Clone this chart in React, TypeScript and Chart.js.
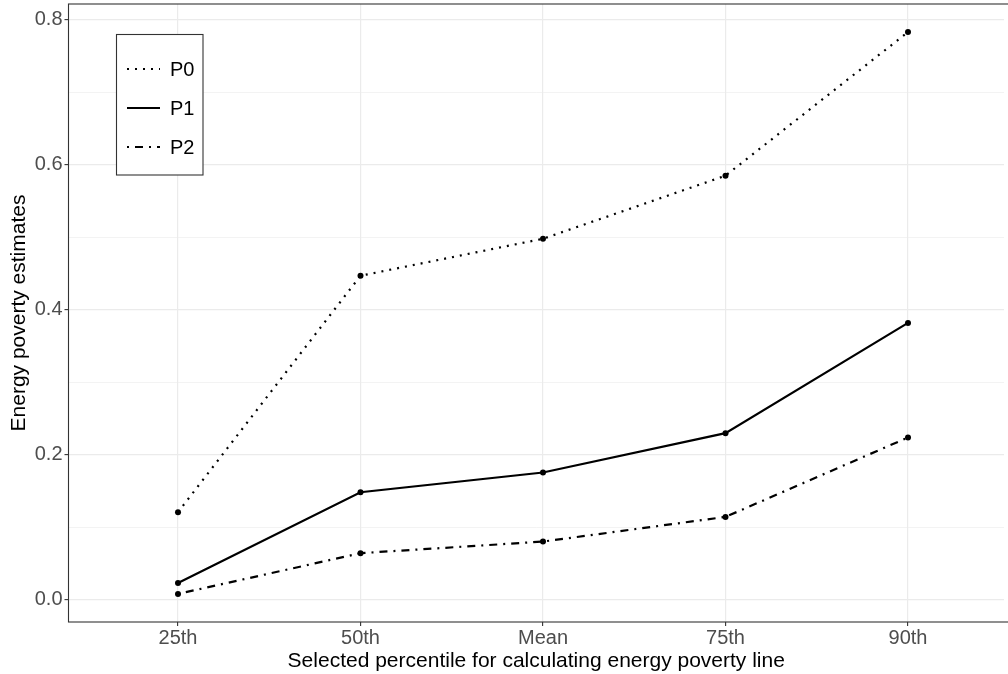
import React, { useEffect, useRef } from "react";
import { Chart, registerables } from "chart.js";

Chart.register(...registerables);

const categories = ["25th", "50th", "Mean", "75th", "90th"];
const seriesNames = ["P0", "P1", "P2"];
const p0Values = [0.121, 0.447, 0.498, 0.585, 0.783];
const p1Values = [0.0235, 0.1485, 0.1757, 0.230, 0.382];
const p2Values = [0.0083, 0.0645, 0.0805, 0.1145, 0.224];
const yTickValues = [0.0, 0.2, 0.4, 0.6, 0.8];
const xTitle = "Selected percentile for calculating energy poverty line";
const yTitle = "Energy poverty estimates";

const dashes: number[][] = [[2, 6], [], [2, 6, 8, 6]];
const FONT = "'Liberation Sans', Arial, Helvetica, sans-serif";
const X_UNIT_PX = 182.5;

const toPoints = (vals: number[]) => vals.map((v, i) => ({ x: i, y: v }));

const zeroPad = (s: any) => {
  s.paddingLeft = 0;
  s.paddingRight = 0;
  s.paddingTop = 0;
  s.paddingBottom = 0;
};

const panelPlugin = {
  id: "panelAndLegend",
  afterLayout(chart: any) {
    const x = chart.scales.x;
    x.max = -0.6 + (x.right - x.left) / X_UNIT_PX;
    x.configure();
  },
  afterDraw(chart: any) {
    const { ctx, chartArea } = chart;
    ctx.save();
    ctx.strokeStyle = "#333333";
    ctx.lineWidth = 1.1;
    ctx.setLineDash([]);
    ctx.strokeRect(chartArea.left, chartArea.top, 1030 - chartArea.left, chartArea.bottom - chartArea.top);
    const lx = 116.5, ly = 34.5, lw = 86.5, lh = 140.5;
    ctx.fillStyle = "#ffffff";
    ctx.fillRect(lx, ly, lw, lh);
    ctx.strokeStyle = "#333333";
    ctx.lineWidth = 1.1;
    ctx.strokeRect(lx, ly, lw, lh);
    const ys = [69, 108, 147];
    seriesNames.forEach((name, i) => {
      ctx.beginPath();
      ctx.setLineDash(dashes[i]);
      ctx.strokeStyle = "#000000";
      ctx.lineWidth = 2.2;
      ctx.moveTo(127, ys[i]);
      ctx.lineTo(160, ys[i]);
      ctx.stroke();
      ctx.setLineDash([]);
      ctx.fillStyle = "#000000";
      ctx.font = `20px ${FONT}`;
      ctx.textBaseline = "middle";
      ctx.textAlign = "left";
      ctx.fillText(name, 170, ys[i] + 1);
    });
    ctx.restore();
  },
};

export default function App() {
  const ref = useRef<HTMLCanvasElement | null>(null);
  useEffect(() => {
    document.body.style.margin = "0";
    const canvas = ref.current!;
    const isMajor = (v: number) => Math.abs(Math.round(v * 10)) % 2 === 0;
    const chart = new Chart(canvas, {
      type: "line",
      data: {
        datasets: [p0Values, p1Values, p2Values].map((vals, i) => ({
          label: seriesNames[i],
          data: toPoints(vals),
          borderColor: "#000000",
          backgroundColor: "#000000",
          borderWidth: 2.2,
          borderDash: dashes[i],
          pointRadius: 3,
          pointBorderWidth: 0,
          pointBackgroundColor: "#000000",
          tension: 0,
          fill: false,
        })),
      },
      options: {
        animation: false,
        responsive: false,
        maintainAspectRatio: false,
        layout: { padding: { top: 4, right: -4, left: 0, bottom: 0 } },
        plugins: {
          legend: { display: false },
          tooltip: { enabled: false },
          title: { display: false },
        },
        scales: {
          x: {
            type: "linear",
            min: -0.6,
            max: -0.6 + (1008 - 68.5) / X_UNIT_PX,
            afterFit: (s: any) => {
              s.height = 52;
              zeroPad(s);
            },
            afterBuildTicks: (s: any) => {
              s.ticks = categories.map((_, i) => ({ value: i }));
            },
            ticks: {
              stepSize: 1,
              includeBounds: false,
              autoSkip: false,
              maxRotation: 0,
              padding: 0,
              color: "#4D4D4D",
              font: { family: FONT, size: 20 },
              callback: (v: any) => categories[Math.round(Number(v))] ?? "",
            },
            grid: {
              color: "#EBEBEB",
              lineWidth: 1.2,
              drawTicks: true,
              tickLength: 4,
              tickColor: "#333333",
              tickWidth: 1.1,
            },
            border: { display: false },
            title: {
              display: true,
              text: xTitle,
              color: "#000000",
              font: { family: FONT, size: 21 },
              padding: { top: 0, bottom: 0.5 },
            },
          },
          y: {
            type: "linear",
            min: -0.0304,
            max: 0.8217,
            afterFit: (s: any) => {
              s.width = 68.5;
              zeroPad(s);
            },
            afterBuildTicks: (s: any) => {
              const t: any[] = [];
              for (let k = 0; k <= 8; k++) t.push({ value: k / 10 });
              s.ticks = t;
            },
            ticks: {
              stepSize: 0.1,
              includeBounds: false,
              autoSkip: false,
              padding: 2,
              color: "#4D4D4D",
              font: { family: FONT, size: 20 },
              callback: (v: any) => {
                const n = Number(v);
                if (!isMajor(n)) return "";
                const m = yTickValues.find((t) => Math.abs(t - n) < 1e-6);
                return m === undefined ? "" : m.toFixed(1);
              },
            },
            grid: {
              color: "#EBEBEB",
              lineWidth: (c: any) => (c.tick && isMajor(c.tick.value) ? 1.2 : 0.6),
              drawTicks: true,
              tickLength: 4,
              tickColor: (c: any) => (c.tick && isMajor(c.tick.value) ? "#333333" : "rgba(0,0,0,0)"),
              tickWidth: 1.1,
            },
            border: { display: false },
            title: {
              display: true,
              text: yTitle,
              color: "#000000",
              font: { family: FONT, size: 21 },
              padding: { top: 7.1, bottom: 0 },
            },
          },
        },
      } as any,
      plugins: [panelPlugin],
    });
    return () => chart.destroy();
  }, []);
  return (
    <div style={{ width: 1008, height: 674, background: "#ffffff" }}>
      <canvas ref={ref} width={1008} height={674} style={{ display: "block" }} />
    </div>
  );
}
